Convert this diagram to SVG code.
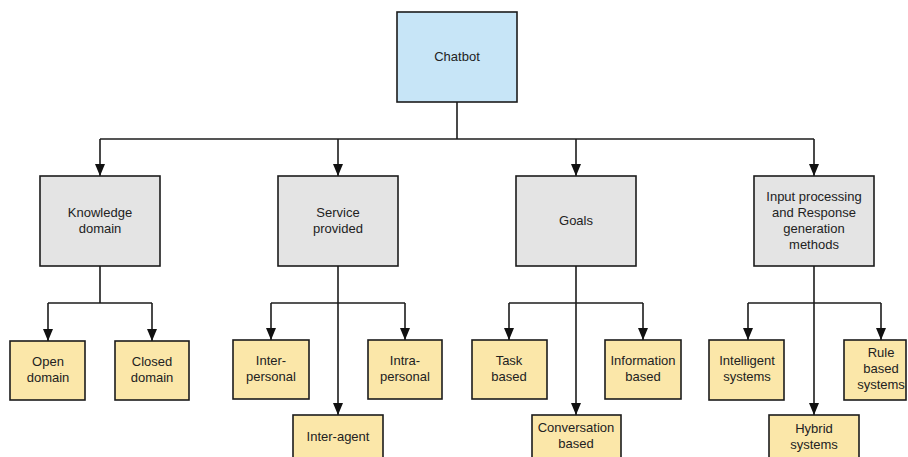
<svg xmlns="http://www.w3.org/2000/svg" width="908" height="457" viewBox="0 0 908 457">
  <style>
    .box { stroke: #1c1c1c; stroke-width: 1.6; }
    .root { fill: #c7e5f7; }
    .cat { fill: #e4e4e4; }
    .leaf { fill: #fbe7a9; }
    .lbl { font-family: "Liberation Sans", Arial, sans-serif; font-size: 13px; fill: #222; text-anchor: middle; dominant-baseline: central; }
    .wire { fill: none; stroke: #1c1c1c; stroke-width: 1.6; }
  </style>
  <defs>
    <!-- filled triangular arrowhead, tip on the end point -->
    <marker id="arrow" viewBox="0 0 12 10" refX="12" refY="5" markerWidth="12" markerHeight="10" markerUnits="userSpaceOnUse" orient="auto">
      <path d="M0,0 L12,5 L0,10 Z" fill="#111"/>
    </marker>
  </defs>
  <rect width="908" height="457" fill="#ffffff"/>

  <g id="connectors">
    <!-- root to categories -->
    <path class="wire" d="M457,102 V139"/>
    <path class="wire" d="M100,139 H814"/>
    <path class="wire" d="M100,139 V176" marker-end="url(#arrow)"/>
    <path class="wire" d="M338,139 V176" marker-end="url(#arrow)"/>
    <path class="wire" d="M576,139 V176" marker-end="url(#arrow)"/>
    <path class="wire" d="M814,139 V176" marker-end="url(#arrow)"/>
    <!-- knowledge domain -->
    <path class="wire" d="M100,266 V303 M48,303 H152"/>
    <path class="wire" d="M48,303 V341" marker-end="url(#arrow)"/>
    <path class="wire" d="M152,303 V341" marker-end="url(#arrow)"/>
    <!-- service provided -->
    <path class="wire" d="M271,303 H405"/>
    <path class="wire" d="M271,303 V340" marker-end="url(#arrow)"/>
    <path class="wire" d="M405,303 V340" marker-end="url(#arrow)"/>
    <path class="wire" d="M338,266 V415" marker-end="url(#arrow)"/>
    <!-- goals -->
    <path class="wire" d="M509,303 H643"/>
    <path class="wire" d="M509,303 V340" marker-end="url(#arrow)"/>
    <path class="wire" d="M643,303 V340" marker-end="url(#arrow)"/>
    <path class="wire" d="M576,266 V415" marker-end="url(#arrow)"/>
    <!-- input processing -->
    <path class="wire" d="M748,303 H881"/>
    <path class="wire" d="M748,303 V340" marker-end="url(#arrow)"/>
    <path class="wire" d="M881,303 V340" marker-end="url(#arrow)"/>
    <path class="wire" d="M814,266 V415" marker-end="url(#arrow)"/>
  </g>

  <g id="chatbot">
    <rect class="box root" x="397" y="12" width="120" height="90"/>
    <text class="lbl" x="457" y="56">Chatbot</text>
  </g>

  <g id="knowledge-domain">
    <rect class="box cat" x="40" y="176" width="120" height="90"/>
    <text class="lbl" x="100" y="212">Knowledge</text>
    <text class="lbl" x="100" y="228">domain</text>
  </g>
  <g id="service-provided">
    <rect class="box cat" x="278" y="176" width="120" height="90"/>
    <text class="lbl" x="338" y="212">Service</text>
    <text class="lbl" x="338" y="228">provided</text>
  </g>
  <g id="goals">
    <rect class="box cat" x="516" y="176" width="120" height="90"/>
    <text class="lbl" x="576" y="220">Goals</text>
  </g>
  <g id="input-processing">
    <rect class="box cat" x="754" y="176" width="120" height="90"/>
    <text class="lbl" x="814" y="196">Input processing</text>
    <text class="lbl" x="814" y="212">and Response</text>
    <text class="lbl" x="814" y="228">generation</text>
    <text class="lbl" x="814" y="244">methods</text>
  </g>

  <g id="open-domain">
    <rect class="box leaf" x="10" y="341" width="75" height="59"/>
    <text class="lbl" x="48" y="361">Open</text>
    <text class="lbl" x="48" y="377">domain</text>
  </g>
  <g id="closed-domain">
    <rect class="box leaf" x="115" y="341" width="74" height="59"/>
    <text class="lbl" x="152" y="361">Closed</text>
    <text class="lbl" x="152" y="377">domain</text>
  </g>

  <g id="inter-personal">
    <rect class="box leaf" x="233" y="340" width="76" height="59"/>
    <text class="lbl" x="271" y="360">Inter-</text>
    <text class="lbl" x="271" y="376">personal</text>
  </g>
  <g id="intra-personal">
    <rect class="box leaf" x="368" y="340" width="74" height="59"/>
    <text class="lbl" x="405" y="360">Intra-</text>
    <text class="lbl" x="405" y="376">personal</text>
  </g>
  <g id="inter-agent">
    <rect class="box leaf" x="293" y="415" width="90" height="60"/>
    <text class="lbl" x="338" y="436">Inter-agent</text>
  </g>

  <g id="task-based">
    <rect class="box leaf" x="472" y="340" width="75" height="59"/>
    <text class="lbl" x="509" y="360">Task</text>
    <text class="lbl" x="509" y="376">based</text>
  </g>
  <g id="information-based">
    <rect class="box leaf" x="605" y="340" width="76" height="59"/>
    <text class="lbl" x="643" y="360">Information</text>
    <text class="lbl" x="643" y="376">based</text>
  </g>
  <g id="conversation-based">
    <rect class="box leaf" x="532" y="415" width="89" height="60"/>
    <text class="lbl" x="576" y="427">Conversation</text>
    <text class="lbl" x="576" y="443">based</text>
  </g>

  <g id="intelligent-systems">
    <rect class="box leaf" x="709" y="340" width="75" height="60"/>
    <text class="lbl" x="747" y="360">Intelligent</text>
    <text class="lbl" x="747" y="376">systems</text>
  </g>
  <g id="rule-based-systems">
    <rect class="box leaf" x="844" y="340" width="62" height="60"/>
    <text class="lbl" x="881" y="352">Rule</text>
    <text class="lbl" x="881" y="368">based</text>
    <text class="lbl" x="881" y="384">systems</text>
  </g>
  <g id="hybrid-systems">
    <rect class="box leaf" x="769" y="415" width="90" height="60"/>
    <text class="lbl" x="814" y="428">Hybrid</text>
    <text class="lbl" x="814" y="444">systems</text>
  </g>
</svg>
